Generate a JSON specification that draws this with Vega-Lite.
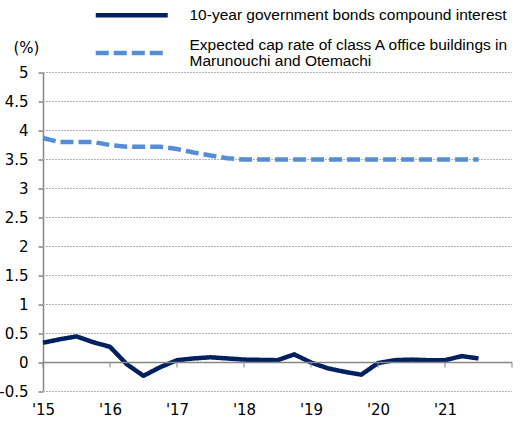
{
  "$schema": "https://vega.github.io/schema/vega-lite/v6.json",
  "width": 469,
  "height": 319,
  "autosize": "none",
  "padding": {"left": 43, "top": 72.5, "right": 11, "bottom": 29.5},
  "background": "white",
  "config": {
    "view": {"stroke": null},
    "font": "DejaVu Sans",
    "axisX": {
      "domain": false, "ticks": false, "grid": false, "title": null, "labelOverlap": false, "labelFlush": false,
      "labelPadding": 11, "labelFontSize": 15, "labelColor": "#000000", "labelFont": "DejaVu Sans"
    },
    "axisY": {
      "labelOverlap": false, "grid": false,
      "domain": true, "domainColor": "#868686", "domainWidth": 1.5,
      "ticks": true, "tickSize": 5, "tickColor": "#868686", "tickWidth": 1.5,
      "labelPadding": 10, "labelFontSize": 15, "labelColor": "#000000", "labelFont": "DejaVu Sans",
      "titleAngle": 0, "titleAlign": "center", "titleBaseline": "middle",
      "titleX": -17, "titleY": -25, "titleFontSize": 15, "titleFontWeight": "normal", "titleColor": "#000000", "titleFont": "DejaVu Sans"
    }
  },
  "layer": [
    {
      "data": {"values": [{"level": -0.5}, {"level": 0.5}, {"level": 1}, {"level": 1.5}, {"level": 2}, {"level": 2.5}, {"level": 3}, {"level": 3.5}, {"level": 4}, {"level": 4.5}, {"level": 5}]},
      "mark": {"type": "rule", "color": "#b3b3b3", "strokeWidth": 1, "strokeDash": [2, 1]},
      "encoding": {
        "y": {
          "field": "level", "type": "quantitative",
          "scale": {"domain": [-0.5, 5], "nice": false, "zero": false},
          "axis": {
            "values": [-0.5, 0, 0.5, 1, 1.5, 2, 2.5, 3, 3.5, 4, 4.5, 5],
            "labelExpr": "datum.value + ''",
            "title": "(%)"
          }
        },
        "x": {"datum": 2015, "type": "quantitative"},
        "x2": {"datum": 2022}
      }
    },
    {
      "data": {
        "values": [
          {"series": "10-year government bonds compound interest", "year": 2015.0, "value": 0.34},
          {"series": "10-year government bonds compound interest", "year": 2015.25, "value": 0.40},
          {"series": "10-year government bonds compound interest", "year": 2015.5, "value": 0.45},
          {"series": "10-year government bonds compound interest", "year": 2015.75, "value": 0.35},
          {"series": "10-year government bonds compound interest", "year": 2016.0, "value": 0.27},
          {"series": "10-year government bonds compound interest", "year": 2016.25, "value": -0.03},
          {"series": "10-year government bonds compound interest", "year": 2016.5, "value": -0.23},
          {"series": "10-year government bonds compound interest", "year": 2016.75, "value": -0.08},
          {"series": "10-year government bonds compound interest", "year": 2017.0, "value": 0.04},
          {"series": "10-year government bonds compound interest", "year": 2017.25, "value": 0.07},
          {"series": "10-year government bonds compound interest", "year": 2017.5, "value": 0.09},
          {"series": "10-year government bonds compound interest", "year": 2017.75, "value": 0.07},
          {"series": "10-year government bonds compound interest", "year": 2018.0, "value": 0.05},
          {"series": "10-year government bonds compound interest", "year": 2018.25, "value": 0.045},
          {"series": "10-year government bonds compound interest", "year": 2018.5, "value": 0.04},
          {"series": "10-year government bonds compound interest", "year": 2018.75, "value": 0.14},
          {"series": "10-year government bonds compound interest", "year": 2019.0, "value": 0.0},
          {"series": "10-year government bonds compound interest", "year": 2019.25, "value": -0.1},
          {"series": "10-year government bonds compound interest", "year": 2019.5, "value": -0.16},
          {"series": "10-year government bonds compound interest", "year": 2019.75, "value": -0.21},
          {"series": "10-year government bonds compound interest", "year": 2020.0, "value": -0.01},
          {"series": "10-year government bonds compound interest", "year": 2020.25, "value": 0.04},
          {"series": "10-year government bonds compound interest", "year": 2020.5, "value": 0.05},
          {"series": "10-year government bonds compound interest", "year": 2020.75, "value": 0.04},
          {"series": "10-year government bonds compound interest", "year": 2021.0, "value": 0.04},
          {"series": "10-year government bonds compound interest", "year": 2021.25, "value": 0.11},
          {"series": "10-year government bonds compound interest", "year": 2021.5, "value": 0.07},
          {"series": "Expected cap rate of class A office buildings in Marunouchi and Otemachi", "year": 2015.0, "value": 3.87},
          {"series": "Expected cap rate of class A office buildings in Marunouchi and Otemachi", "year": 2015.25, "value": 3.8},
          {"series": "Expected cap rate of class A office buildings in Marunouchi and Otemachi", "year": 2015.5, "value": 3.8},
          {"series": "Expected cap rate of class A office buildings in Marunouchi and Otemachi", "year": 2015.75, "value": 3.8},
          {"series": "Expected cap rate of class A office buildings in Marunouchi and Otemachi", "year": 2016.0, "value": 3.75},
          {"series": "Expected cap rate of class A office buildings in Marunouchi and Otemachi", "year": 2016.25, "value": 3.72},
          {"series": "Expected cap rate of class A office buildings in Marunouchi and Otemachi", "year": 2016.5, "value": 3.72},
          {"series": "Expected cap rate of class A office buildings in Marunouchi and Otemachi", "year": 2016.75, "value": 3.72},
          {"series": "Expected cap rate of class A office buildings in Marunouchi and Otemachi", "year": 2017.0, "value": 3.68},
          {"series": "Expected cap rate of class A office buildings in Marunouchi and Otemachi", "year": 2017.25, "value": 3.62},
          {"series": "Expected cap rate of class A office buildings in Marunouchi and Otemachi", "year": 2017.5, "value": 3.57},
          {"series": "Expected cap rate of class A office buildings in Marunouchi and Otemachi", "year": 2017.75, "value": 3.52},
          {"series": "Expected cap rate of class A office buildings in Marunouchi and Otemachi", "year": 2018.0, "value": 3.5},
          {"series": "Expected cap rate of class A office buildings in Marunouchi and Otemachi", "year": 2018.25, "value": 3.5},
          {"series": "Expected cap rate of class A office buildings in Marunouchi and Otemachi", "year": 2018.5, "value": 3.5},
          {"series": "Expected cap rate of class A office buildings in Marunouchi and Otemachi", "year": 2018.75, "value": 3.5},
          {"series": "Expected cap rate of class A office buildings in Marunouchi and Otemachi", "year": 2019.0, "value": 3.5},
          {"series": "Expected cap rate of class A office buildings in Marunouchi and Otemachi", "year": 2019.25, "value": 3.5},
          {"series": "Expected cap rate of class A office buildings in Marunouchi and Otemachi", "year": 2019.5, "value": 3.5},
          {"series": "Expected cap rate of class A office buildings in Marunouchi and Otemachi", "year": 2019.75, "value": 3.5},
          {"series": "Expected cap rate of class A office buildings in Marunouchi and Otemachi", "year": 2020.0, "value": 3.5},
          {"series": "Expected cap rate of class A office buildings in Marunouchi and Otemachi", "year": 2020.25, "value": 3.5},
          {"series": "Expected cap rate of class A office buildings in Marunouchi and Otemachi", "year": 2020.5, "value": 3.5},
          {"series": "Expected cap rate of class A office buildings in Marunouchi and Otemachi", "year": 2020.75, "value": 3.5},
          {"series": "Expected cap rate of class A office buildings in Marunouchi and Otemachi", "year": 2021.0, "value": 3.5},
          {"series": "Expected cap rate of class A office buildings in Marunouchi and Otemachi", "year": 2021.25, "value": 3.5},
          {"series": "Expected cap rate of class A office buildings in Marunouchi and Otemachi", "year": 2021.5, "value": 3.5}
        ]
      },
      "mark": {"type": "line", "strokeWidth": 4.5, "strokeCap": "butt", "strokeJoin": "round"},
      "encoding": {
        "x": {
          "field": "year", "type": "quantitative",
          "scale": {"domain": [2015, 2022], "nice": false, "zero": false},
          "axis": {
            "values": [2015, 2016, 2017, 2018, 2019, 2020, 2021],
            "labelExpr": "'\\'' + substring(datum.value + '', 2, 4)"
          }
        },
        "y": {
          "field": "value", "type": "quantitative",
          "axis": {
            "values": [-0.5, 0, 0.5, 1, 1.5, 2, 2.5, 3, 3.5, 4, 4.5, 5],
            "labelExpr": "datum.value + ''",
            "title": "(%)"
          }
        },
        "color": {
          "field": "series", "type": "nominal",
          "scale": {"domain": ["10-year government bonds compound interest", "Expected cap rate of class A office buildings in Marunouchi and Otemachi"], "range": ["#002060", "#558ED5"]},
          "legend": {
            "values": ["10-year government bonds compound interest"],
            "orient": "none", "legendX": 81, "legendY": -65, "title": null,
            "symbolType": "M-8,0H8", "symbolSize": 81, "symbolStrokeWidth": 4.5,
            "labelFont": "Liberation Sans", "labelFontSize": 15.5, "labelColor": "#000000",
            "labelLimit": 500, "labelOffset": 50
          }
        },
        "strokeDash": {
          "field": "series", "type": "nominal",
          "scale": {"domain": ["Expected cap rate of class A office buildings in Marunouchi and Otemachi", "10-year government bonds compound interest"], "range": [[13, 5], [1, 0]]},
          "legend": {
            "values": ["Expected cap rate of class A office buildings in Marunouchi and Otemachi"],
            "orient": "none", "legendX": 81, "legendY": -35, "title": null,
            "symbolType": "M-8,1.72H8", "symbolSize": 81, "symbolStrokeWidth": 4.5, "symbolStrokeColor": "#558ED5",
            "labelFont": "Liberation Sans", "labelFontSize": 15.5, "labelColor": "#000000",
            "labelLimit": 500, "labelOffset": 50,
            "labelExpr": "['Expected cap rate of class A office buildings in', 'Marunouchi and Otemachi']",
            "encode": {"labels": {"update": {"lineHeight": {"value": 15.5}}}}
          }
        }
      }
    },
    {
      "data": {"values": [{"year": 2015, "level": 0}, {"year": 2016, "level": 0}, {"year": 2017, "level": 0}, {"year": 2018, "level": 0}, {"year": 2019, "level": 0}, {"year": 2020, "level": 0}, {"year": 2021, "level": 0}, {"year": 2022, "level": 0}]},
      "mark": {"type": "tick", "orient": "vertical", "size": 5, "thickness": 1.5, "color": "#868686", "yOffset": 2.5},
      "encoding": {
        "x": {
          "field": "year", "type": "quantitative",
          "axis": {
            "values": [2015, 2016, 2017, 2018, 2019, 2020, 2021],
            "labelExpr": "'\\'' + substring(datum.value + '', 2, 4)"
          }
        },
        "y": {
          "field": "level", "type": "quantitative",
          "axis": {
            "values": [-0.5, 0, 0.5, 1, 1.5, 2, 2.5, 3, 3.5, 4, 4.5, 5],
            "labelExpr": "datum.value + ''",
            "title": "(%)"
          }
        }
      }
    },
    {
      "data": {"values": [{"level": 0}]},
      "mark": {"type": "rule", "color": "#868686", "strokeWidth": 1.5},
      "encoding": {
        "y": {
          "field": "level", "type": "quantitative",
          "axis": {
            "values": [-0.5, 0, 0.5, 1, 1.5, 2, 2.5, 3, 3.5, 4, 4.5, 5],
            "labelExpr": "datum.value + ''",
            "title": "(%)"
          }
        }
      }
    }
  ]
}
